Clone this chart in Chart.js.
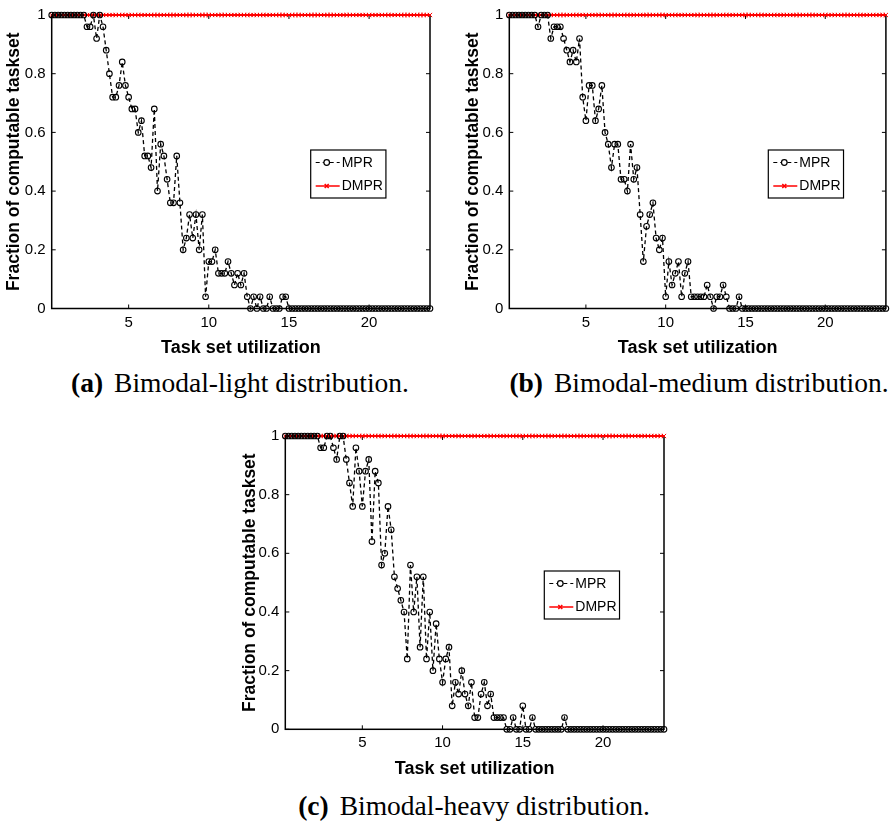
<!DOCTYPE html>
<html>
<head>
<meta charset="utf-8">
<script src="https://cdn.jsdelivr.net/npm/chart.js@4.4.0/dist/chart.umd.min.js"></script>
<style>
body{margin:0;background:#fff;width:891px;height:824px;position:relative;overflow:hidden}
canvas{position:absolute}
.cap{position:absolute;font-family:"Liberation Serif","Times New Roman",serif;font-size:27.5px;line-height:27.5px;white-space:nowrap;transform:translateX(-50%);color:#000}
.cap b{margin-right:11px}
</style>
</head>
<body>
<canvas id="cA" width="440" height="362" style="left:0;top:0"></canvas>
<canvas id="cB" width="435" height="362" style="left:456px;top:0"></canvas>
<canvas id="cC" width="445" height="362" style="left:232px;top:421px"></canvas>
<div class="cap" style="left:240px;top:369px"><b>(a)</b>Bimodal-light distribution.</div>
<div class="cap" style="left:699px;top:369px"><b>(b)</b>Bimodal-medium distribution.</div>
<div class="cap" style="left:474px;top:792px"><b>(c)</b>Bimodal-heavy distribution.</div>
<script>
// task set utilization (x)
var utilization = [0.2,0.4,0.6,0.8,1,1.2,1.4,1.6,1.8,2,2.2,2.4,2.6,2.8,3,3.2,3.4,3.6,3.8,4,
  4.2,4.4,4.6,4.8,5,5.2,5.4,5.6,5.8,6,6.2,6.4,6.6,6.8,7,7.2,7.4,7.6,7.8,8,
  8.2,8.4,8.6,8.8,9,9.2,9.4,9.6,9.8,10,10.2,10.4,10.6,10.8,11,11.2,11.4,11.6,11.8,12,
  12.2,12.4,12.6,12.8,13,13.2,13.4,13.6,13.8,14,14.2,14.4,14.6,14.8,15,15.2,15.4,15.6,15.8,16,
  16.2,16.4,16.6,16.8,17,17.2,17.4,17.6,17.8,18,18.2,18.4,18.6,18.8,19,19.2,19.4,19.6,19.8,20,
  20.2,20.4,20.6,20.8,21,21.2,21.4,21.6,21.8,22,22.2,22.4,22.6,22.8,23,23.2,23.4,23.6,23.8];

// MPR, bimodal-light
var mprLight = [1,1,1,1,1,1,1,1,1,1,
  1,0.96,0.96,1,0.92,1,0.96,0.88,0.80,0.72,
  0.72,0.76,0.84,0.76,0.72,0.68,0.68,0.60,0.64,0.52,
  0.52,0.48,0.68,0.40,0.56,0.52,0.44,0.36,0.36,0.52,
  0.36,0.20,0.24,0.32,0.24,0.32,0.20,0.32,0.04,0.16,
  0.16,0.20,0.12,0.12,0.12,0.16,0.12,0.08,0.12,0.08,
  0.12,0.04,0,0.04,0,0.04,0,0,0.04,0,
  0,0,0.04,0.04,0,0,0,0,0,0,
  0,0,0,0,0,0,0,0,0,0,
  0,0,0,0,0,0,0,0,0,0,
  0,0,0,0,0,0,0,0,0,0,
  0,0,0,0,0,0,0,0,0];

// MPR, bimodal-medium
var mprMedium = [1,1,1,1,1,1,1,1,1,0.96,
  1,1,1,0.92,0.96,0.96,0.96,0.92,0.88,0.84,
  0.88,0.84,0.92,0.72,0.64,0.76,0.76,0.64,0.68,0.76,
  0.60,0.56,0.48,0.56,0.56,0.44,0.44,0.40,0.56,0.44,
  0.48,0.32,0.16,0.28,0.32,0.36,0.24,0.20,0.24,0.04,
  0.16,0.08,0.12,0.16,0.04,0.12,0.16,0.04,0.04,0.04,
  0.04,0.04,0.08,0.04,0,0.04,0.04,0.08,0.04,0,
  0,0,0.04,0,0,0,0,0,0,0,
  0,0,0,0,0,0,0,0,0,0,
  0,0,0,0,0,0,0,0,0,0,
  0,0,0,0,0,0,0,0,0,0,
  0,0,0,0,0,0,0,0,0];

// MPR, bimodal-heavy
var mprHeavy = [1,1,1,1,1,1,1,1,1,1,
  1,0.96,0.96,1,1,0.96,0.92,1,1,0.92,
  0.84,0.76,0.96,0.88,0.76,0.88,0.92,0.64,0.88,0.84,
  0.56,0.60,0.76,0.68,0.52,0.48,0.44,0.40,0.24,0.56,
  0.40,0.52,0.28,0.52,0.24,0.40,0.20,0.36,0.24,0.16,
  0.24,0.28,0.08,0.16,0.12,0.20,0.12,0.08,0.16,0.04,
  0.04,0.12,0.16,0.08,0.12,0.04,0.04,0.04,0.04,0,
  0,0.04,0,0,0.08,0,0,0.04,0,0,
  0,0,0,0,0,0,0,0.04,0,0,
  0,0,0,0,0,0,0,0,0,0,
  0,0,0,0,0,0,0,0,0,0,
  0,0,0,0,0,0,0,0,0];

// DMPR schedules every task set in all three distributions
var dmpr = [1,1,1,1,1,1,1,1,1,1, 1,1,1,1,1,1,1,1,1,1, 1,1,1,1,1,1,1,1,1,1,
  1,1,1,1,1,1,1,1,1,1, 1,1,1,1,1,1,1,1,1,1, 1,1,1,1,1,1,1,1,1,1,
  1,1,1,1,1,1,1,1,1,1, 1,1,1,1,1,1,1,1,1,1, 1,1,1,1,1,1,1,1,1,1,
  1,1,1,1,1,1,1,1,1,1, 1,1,1,1,1,1,1,1,1,1, 1,1,1,1,1,1,1,1,1];

var xTicks = [5, 10, 15, 20];
var yTicks = [0, 0.2, 0.4, 0.6, 0.8, 1];
var yTickLabels = ['0', '0.2', '0.4', '0.6', '0.8', '1'];
var seriesNames = ['MPR', 'DMPR'];

Chart.defaults.font.family = '"Liberation Sans", Arial, Helvetica, sans-serif';
Chart.defaults.color = '#000';

function toPoints(ys) {
  return ys.map(function(v, i) { return {x: utilization[i], y: v}; });
}

// matlab style box with inward ticks
var axesBox = {
  id: 'axesBox',
  beforeDatasetsDraw: function(chart) {
    var ctx = chart.ctx, a = chart.chartArea, x = chart.scales.x, y = chart.scales.y;
    ctx.save();
    ctx.strokeStyle = '#000';
    ctx.lineWidth = 1.5;
    ctx.strokeRect(a.left, a.top, a.right - a.left, a.bottom - a.top);
    ctx.lineWidth = 1;
    ctx.beginPath();
    x.ticks.forEach(function(t) {
      var px = x.getPixelForValue(t.value);
      ctx.moveTo(px, a.bottom); ctx.lineTo(px, a.bottom - 4);
      ctx.moveTo(px, a.top); ctx.lineTo(px, a.top + 4);
    });
    y.ticks.forEach(function(t) {
      var py = y.getPixelForValue(t.value);
      ctx.moveTo(a.left, py); ctx.lineTo(a.left + 4, py);
      ctx.moveTo(a.right, py); ctx.lineTo(a.right - 4, py);
    });
    ctx.stroke();
    ctx.restore();
  }
};

// legend box inside the plot
var legendBox = {
  id: 'legendBox',
  afterDraw: function(chart) {
    var ctx = chart.ctx, a = chart.chartArea;
    ctx.save();
    ctx.font = '14px "Liberation Sans", Arial, sans-serif';
    var tw = Math.max(ctx.measureText(seriesNames[0]).width, ctx.measureText(seriesNames[1]).width);
    var bx = a.left + 259, by = a.top + 135, bw = 34 + tw, bh = 48;
    ctx.fillStyle = '#fff';
    ctx.fillRect(bx, by, bw, bh);
    ctx.strokeStyle = '#000';
    ctx.lineWidth = 1.2;
    ctx.strokeRect(bx, by, bw, bh);
    var r1 = by + 12.5, r2 = by + 36;
    // MPR
    ctx.lineWidth = 1.2;
    ctx.setLineDash([4, 3]);
    ctx.beginPath(); ctx.moveTo(bx + 5, r1); ctx.lineTo(bx + 29, r1); ctx.stroke();
    ctx.setLineDash([]);
    ctx.beginPath(); ctx.arc(bx + 16, r1, 2.8, 0, Math.PI * 2); ctx.fillStyle = '#fff'; ctx.fill(); ctx.stroke();
    // DMPR
    ctx.strokeStyle = '#ff0000';
    ctx.lineWidth = 1.5;
    ctx.beginPath(); ctx.moveTo(bx + 5, r2); ctx.lineTo(bx + 29, r2); ctx.stroke();
    ctx.beginPath();
    ctx.moveTo(bx + 14, r2 - 2); ctx.lineTo(bx + 18, r2 + 2);
    ctx.moveTo(bx + 14, r2 + 2); ctx.lineTo(bx + 18, r2 - 2);
    ctx.stroke();
    ctx.fillStyle = '#000';
    ctx.textBaseline = 'middle';
    ctx.fillText(seriesNames[0], bx + 31, r1 + 0.5);
    ctx.fillText(seriesNames[1], bx + 31, r2 + 0.5);
    ctx.restore();
  }
};

function makeChart(id, mpr, g) {
  return new Chart(document.getElementById(id), {
    type: 'line',
    data: {
      datasets: [{
        label: seriesNames[0],
        data: toPoints(mpr),
        borderColor: '#000',
        borderWidth: 1.3,
        borderDash: [4, 3],
        pointStyle: 'circle',
        pointRadius: 2.8,
        pointBorderWidth: 1.1,
        pointBorderColor: '#000',
        pointBackgroundColor: 'rgba(255,255,255,0)',
        clip: false
      }, {
        label: seriesNames[1],
        data: toPoints(dmpr),
        borderColor: '#ff0000',
        borderWidth: 2,
        pointStyle: 'crossRot',
        pointRadius: 3,
        pointBorderWidth: 1,
        pointBorderColor: '#ff0000',
        clip: false
      }]
    },
    options: {
      responsive: false,
      animation: false,
      events: [],
      layout: {padding: {top: g.top, right: g.right, left: 0, bottom: 0}},
      elements: {line: {tension: 0}},
      plugins: {legend: {display: false}, tooltip: {enabled: false}},
      scales: {
        x: {
          type: 'linear',
          min: 0.2,
          max: 23.8,
          afterBuildTicks: function(s) { s.ticks = xTicks.map(function(v) { return {value: v}; }); },
          afterFit: function(s) { s.height = g.xH; },
          grid: {display: false, drawTicks: false},
          border: {display: false},
          ticks: {font: {size: 15}, padding: 5, maxRotation: 0, callback: function(v) { return String(v); }},
          title: {display: true, text: 'Task set utilization', font: {size: 18, weight: 'bold'}, padding: {top: 0, bottom: 3}}
        },
        y: {
          min: 0,
          max: 1,
          afterBuildTicks: function(s) { s.ticks = yTicks.map(function(v) { return {value: v}; }); },
          afterFit: function(s) { s.width = g.yW; },
          grid: {display: false, drawTicks: false},
          border: {display: false},
          ticks: {font: {size: 15}, padding: 6, callback: function(v) { return yTickLabels[yTicks.indexOf(v)]; }},
          title: {display: true, text: 'Fraction of computable taskset', font: {size: 17.5, weight: 'bold'}, padding: {top: g.yt, bottom: 0}}
        }
      }
    },
    plugins: [axesBox, legendBox]
  });
}

makeChart('cA', mprLight, {top: 9.5, right: 10, xH: 53.5, yW: 51.7, yt: 3.5});
makeChart('cB', mprMedium, {top: 9.5, right: 3, xH: 53.5, yW: 53.3, yt: 6.5});
makeChart('cC', mprHeavy, {top: 10, right: 13, xH: 53.7, yW: 53.3, yt: 7.5});
</script>
</body>
</html>
